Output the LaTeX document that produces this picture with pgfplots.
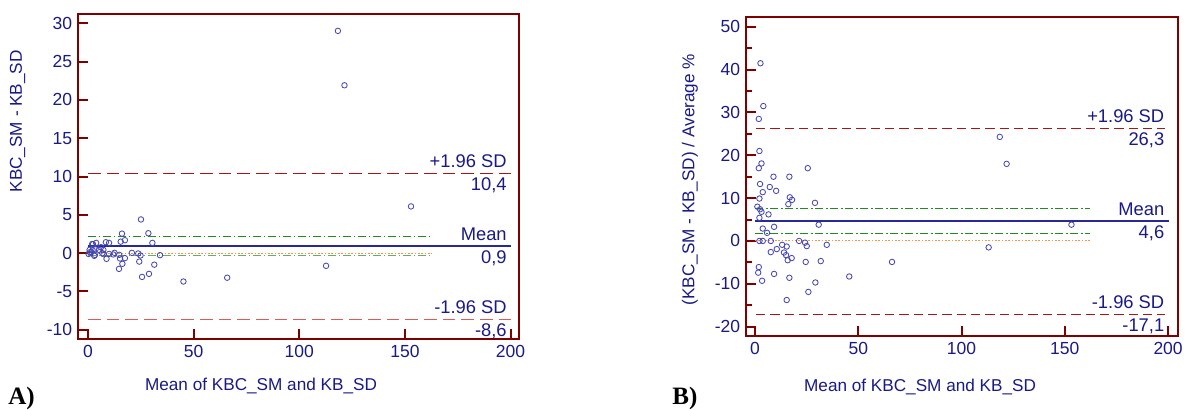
\documentclass[border=0pt]{standalone}
\usepackage{pgfplots}
\pgfplotsset{compat=1.18}
\usepackage{fontspec}
\setmainfont{Liberation Sans}
\newfontfamily\serifbold{Liberation Serif}

\definecolor{navytxt}{RGB}{25,25,135}
\definecolor{framered}{RGB}{128,0,0}
\definecolor{sdup}{RGB}{170,20,20}
\definecolor{sdlo}{RGB}{220,90,90}
\definecolor{cigreen}{RGB}{30,140,30}
\definecolor{cigreenlt}{RGB}{100,175,100}
\definecolor{zeroorange}{RGB}{245,150,60}
\definecolor{markblue}{RGB}{70,70,180}
\definecolor{meanblue}{RGB}{40,40,150}

\tikzset{
  ann/.style={font=\fontsize{11}{13}\selectfont, text=navytxt, inner sep=1.5pt},
  tk/.style={draw=framered, line width=1.2pt},
}
\pgfplotsset{
  ba/.style={
    scale only axis,
    axis line style={draw=framered, line width=1.2pt},
    tick pos=left, tick align=inside,
    major tick length=6pt, minor tick length=3.5pt,
    every tick/.style={draw=framered, line width=1.2pt},
    tick label style={font=\fontsize{10.5}{12}\selectfont, text=navytxt},
    /pgf/number format/assume math mode=true,
    label style={font=\fontsize{10.3}{12}\selectfont, text=navytxt},
    xtick={0,50,100,150,200},
    clip=false,
  },
  pts/.style={only marks, mark=o, mark size=1.65pt, markblue, line width=0.5pt},
}

\begin{document}
\begin{tikzpicture}

% ---------- Panel A ----------
\begin{axis}[ba,
  at={(46.8pt,-203.4pt)}, anchor=south west,
  width=264.6pt, height=195pt,
  xmin=-4.7, xmax=204, ymin=-11.2, ymax=31.2,
  ytick={-10,-5,0,5,10,15,20,25,30},
  xlabel={Mean of KBC\_SM and KB\_SD},
  ylabel={KBC\_SM - KB\_SD},
  xlabel style={at={(axis description cs:0.415,0)}, anchor=north, yshift=-20pt},
  ylabel style={at={(axis description cs:-0.137,0.67)}, anchor=center},
]
\pgfplotsinvokeforeach{0,50,100,150,200}{\draw[tk] (axis cs:#1,-11.2) -- ++(0pt,6pt);}
\pgfplotsinvokeforeach{-10,-5,0,5,10,15,20,25,30}{\draw[tk] (axis cs:-4.7,#1) -- ++(6pt,0pt);}
\addplot[sdup, line width=0.7pt, dash pattern=on 7.6pt off 3.6pt] coordinates {(0,10.4) (200,10.4)};
\addplot[sdlo, line width=0.7pt, dash pattern=on 7.6pt off 3.6pt] coordinates {(0,-8.6) (200,-8.6)};
\addplot[cigreen, line width=0.6pt, dash pattern=on 5pt off 1.5pt on 1pt off 1.5pt] coordinates {(0,2.2) (162.5,2.2)};
\addplot[cigreenlt, line width=0.8pt, dash pattern=on 5pt off 1.5pt on 1pt off 1.5pt] coordinates {(0,-0.3) (162.5,-0.3)};
\addplot[zeroorange, line width=0.6pt, dash pattern=on 1pt off 1pt] coordinates {(0,0) (162.5,0)};
\addplot[meanblue, line width=1.4pt] coordinates {(0,0.9) (200,0.9)};
\addplot[pts] coordinates {
(0.3,-0.1) (0.8,0.43) (0.95,0.13) (1.6,0.13) (2.0,1.2) (2.2,0.39) (2.4,1.17)
(3.0,-0.35) (3.3,-0.22) (3.6,0.5) (3.9,1.34) (5.2,0.43) (6.2,0.78) (6.8,0)
(7.3,0.43) (7.4,-0.13) (8.5,1.43) (8.8,-0.74) (10.0,1.34) (10.0,-0.1)
(12.0,-0.17) (12.6,0.04) (14.7,-2.05) (14.8,-0.22) (15.2,-0.7) (15.5,1.5)
(16.1,2.55) (16.3,-1.39) (17.5,1.69) (17.5,-0.65) (20.8,0.04) (23.8,-0.04)
(24.3,-1.1) (24.9,-0.3) (25.1,4.4) (25.6,-3.1) (28.6,2.6) (28.9,-2.7)
(30.5,1.34) (31.4,-1.5) (34.1,-0.26) (45.2,-3.7) (65.9,-3.2) (112.7,-1.65)
(118.3,29.0) (121.4,21.9) (152.9,6.1)
};
\node[ann, anchor=south east, yshift=1.5pt] at (axis cs:199.5,10.4) {+1.96 SD};
\node[ann, anchor=north east, yshift=-1pt] at (axis cs:199.5,10.4) {10,4};
\node[ann, anchor=south east, yshift=1.5pt] at (axis cs:199.5,0.9) {Mean};
\node[ann, anchor=north east, yshift=-1pt] at (axis cs:199.5,0.9) {0,9};
\node[ann, anchor=south east, yshift=1.5pt] at (axis cs:199.5,-8.6) {-1.96 SD};
\node[ann, anchor=north east, yshift=-1pt] at (axis cs:199.5,-8.6) {-8,6};
\end{axis}

% ---------- Panel B ----------
\begin{axis}[ba,
  at={(447.6pt,-201.6pt)}, anchor=south west,
  width=259.2pt, height=191.4pt,
  xmin=-4.4, xmax=204.8, ymin=-22.2, ymax=52.3,
  ytick={-20,-10,0,10,20,30,40,50},
  minor y tick num=1,
  xlabel={Mean of KBC\_SM and KB\_SD},
  ylabel={(KBC\_SM - KB\_SD) / Average \%},
  xlabel style={at={(axis description cs:0.403,0)}, anchor=north, yshift=-22pt},
  ylabel style={at={(axis description cs:-0.13,0.49)}, anchor=center},
]
\pgfplotsinvokeforeach{0,50,100,150,200}{\draw[tk] (axis cs:#1,-22.2) -- ++(0pt,6pt);}
\pgfplotsinvokeforeach{-20,-10,0,10,20,30,40,50}{\draw[tk] (axis cs:-4.4,#1) -- ++(6pt,0pt);}
\pgfplotsinvokeforeach{-15,-5,5,15,25,35,45}{\draw[tk, line width=1pt] (axis cs:-4.4,#1) -- ++(3.5pt,0pt);}
\addplot[sdup, line width=0.7pt, dash pattern=on 5.6pt off 3pt] coordinates {(0.5,26.3) (198.5,26.3)};
\addplot[sdup, line width=0.7pt, dash pattern=on 5.6pt off 3pt] coordinates {(0.5,-17.1) (198.5,-17.1)};
\addplot[cigreen, line width=0.6pt, dash pattern=on 5pt off 1.5pt on 1pt off 1.5pt] coordinates {(0,7.5) (162.4,7.5)};
\addplot[cigreen, line width=0.6pt, dash pattern=on 5pt off 1.5pt on 1pt off 1.5pt] coordinates {(0,1.8) (162.4,1.8)};
\addplot[zeroorange, line width=0.6pt, dash pattern=on 1pt off 1pt] coordinates {(0,0) (162.4,0)};
\addplot[meanblue, line width=1.4pt] coordinates {(0,4.6) (200.3,4.6)};
\addplot[pts] coordinates {
(2.6,41.5) (4.0,31.5) (1.8,28.5) (118.5,24.3) (121.8,18.0) (2.1,21.0) (3.1,18.1)
(1.8,17.0) (25.5,17.0) (8.9,15.0) (16.6,15.0) (2.4,13.3) (7.1,12.6) (10.2,11.7)
(3.7,11.4) (2.1,9.9) (16.8,10.2) (17.9,9.6) (16.1,8.6) (29.0,8.9) (1.1,8.0)
(2.4,7.4) (3.1,6.8) (6.5,6.2) (2.1,5.4) (30.8,3.8) (153.2,3.8) (9.2,3.3)
(3.7,2.9) (5.8,1.9) (2.1,0) (3.7,0) (7.6,0) (21.3,0) (24.2,-0.4) (25.0,-1.2)
(34.7,-0.9) (13.1,-0.9) (10.5,-1.9) (15.3,-1.3) (14.0,-2.7) (15.0,-3.3)
(17.7,-4.0) (15.8,-4.5) (7.6,-2.6) (24.5,-4.9) (31.8,-4.7) (66.3,-4.9)
(113.1,-1.5) (1.8,-6.1) (1.5,-7.4) (9.2,-7.7) (3.4,-9.3) (16.6,-8.6)
(45.6,-8.3) (29.2,-9.7) (25.8,-11.9) (15.3,-13.8)
};
\node[ann, anchor=south east, yshift=1.5pt] at (axis cs:199.5,26.3) {+1.96 SD};
\node[ann, anchor=north east, yshift=-1pt] at (axis cs:199.5,26.3) {26,3};
\node[ann, anchor=south east, yshift=1.5pt] at (axis cs:199.5,4.6) {Mean};
\node[ann, anchor=north east, yshift=-1pt] at (axis cs:199.5,4.6) {4,6};
\node[ann, anchor=south east, yshift=1.5pt] at (axis cs:199.5,-17.1) {-1.96 SD};
\node[ann, anchor=north east, yshift=-1pt] at (axis cs:199.5,-17.1) {-17,1};
\end{axis}

\node[anchor=base west, inner sep=0pt, font=\serifbold\bfseries\fontsize{15}{16}\selectfont] at (4.8pt,-242.4pt) {A)};
\node[anchor=base west, inner sep=0pt, font=\serifbold\bfseries\fontsize{15}{16}\selectfont] at (403.2pt,-242.4pt) {B)};
\path (0,0) rectangle (714.6pt,-245.4pt);
\end{tikzpicture}
\end{document}
